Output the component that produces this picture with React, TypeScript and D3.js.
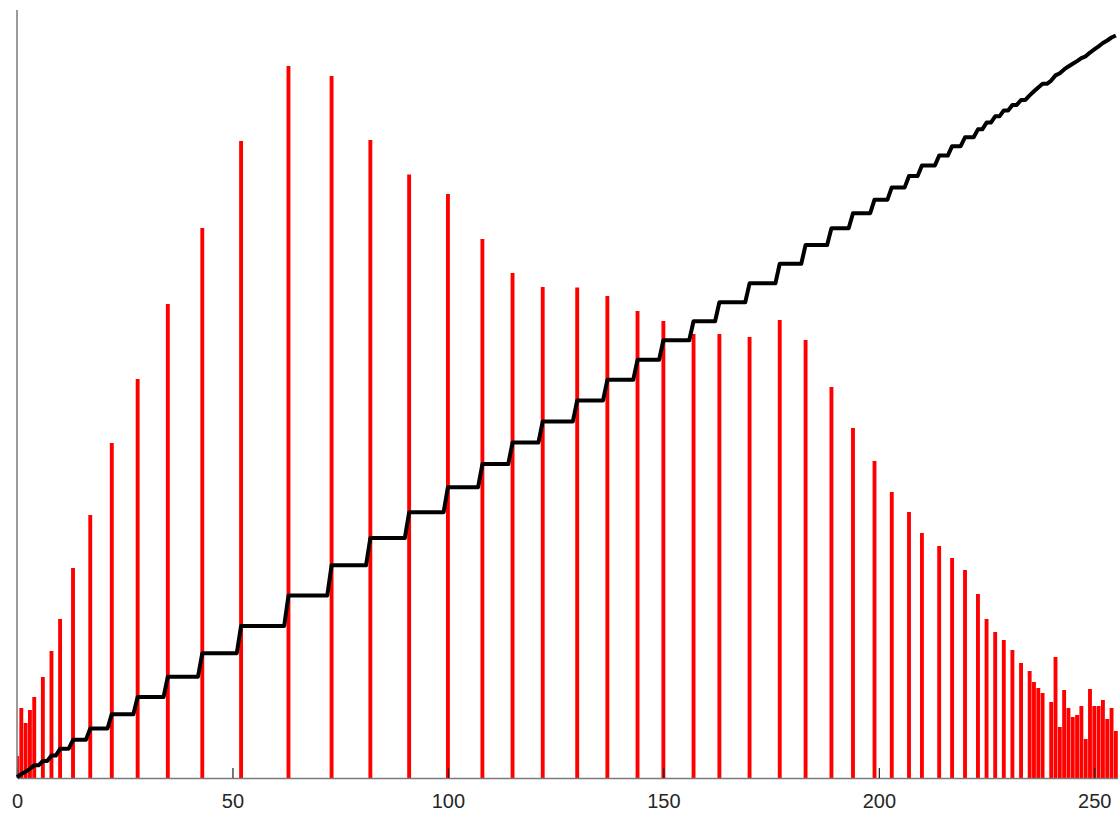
import * as d3 from 'd3';
import React, { useEffect, useRef } from 'react';

// grey levels that hold pixels after equalisation, and their pixel counts
const levels = [
    0, 1, 2, 3, 4, 6, 8, 10, 13, 17, 22, 28, 35, 43, 52, 63, 73, 82, 91, 100,
    108, 115, 122, 130, 137, 144, 150, 157, 163, 170, 177, 183, 189, 194, 199,
    203, 207, 210, 214, 217, 220, 223, 225, 227, 229, 231, 233, 235, 236, 237,
    238, 240, 241, 242, 243, 244, 245, 246, 247, 248, 249, 250, 251, 252, 253,
    254, 255,
];
const counts = [
    88, 280, 220, 272, 324, 404, 508, 636, 840, 1052, 1340, 1596, 1896, 2200,
    2548, 2848, 2808, 2552, 2414, 2336, 2156, 2020, 1964, 1962, 1928, 1868, 1828,
    1776, 1776, 1764, 1832, 1752, 1564, 1400, 1268, 1144, 1064, 980, 928, 880,
    832, 736, 636, 584, 552, 512, 460, 428, 384, 360, 340, 304, 484, 204, 352,
    280, 244, 252, 288, 156, 356, 288, 288, 312, 236, 280, 188,
];
// value the cumulative curve reaches at level 255 (same units as counts)
const cdfTop = 2970;
const xTicks = [0, 50, 100, 150, 200, 250];

const width = 1118;
const height = 814;
const marginLeft = 17;
const marginTop = 10;
const marginBottom = 36;

const App = () => {
    const svgRef = useRef<SVGSVGElement | null>(null);

    useEffect(() => {
        const svg = d3.select(svgRef.current);
        svg.selectAll('*').remove();

        const x = d3
            .scaleLinear()
            .domain([0, 255.5])
            .range([marginLeft, width]);
        const y = d3
            .scaleLinear()
            .domain([0, 3072])
            .range([height - marginBottom, marginTop]);

        // full 0..255 histogram (empty levels are 0) -> cumulative curve
        const full = d3.range(256).map(() => 0);
        levels.forEach((l, i) => (full[l] = counts[i]));
        const cum = Array.from(d3.cumsum(full));
        const k = cdfTop / cum[cum.length - 1];
        const cdf = cum.map((v, i) => ({ level: i, value: v * k }));

        svg.append('defs')
            .append('clipPath')
            .attr('id', 'plot-clip')
            .append('rect')
            .attr('x', x(0))
            .attr('y', marginTop)
            .attr('width', width - x(0))
            .attr('height', height - marginBottom - marginTop);

        const bw = (x(1) - x(0)) * 0.9;
        svg.append('g')
            .attr('clip-path', 'url(#plot-clip)')
            .selectAll('rect')
            .data(levels)
            .join('rect')
            .attr('x', (d) => x(d) - bw / 2)
            .attr('width', bw)
            .attr('y', (d, i) => y(counts[i]))
            .attr('height', (d, i) => y(0) - y(counts[i]))
            .attr('fill', '#ff0000');

        // bottom axis, ticks pointing inward
        const gx = svg
            .append('g')
            .attr('transform', `translate(0,${y(0)})`)
            .call(
                d3
                    .axisBottom(x)
                    .tickValues(xTicks)
                    .tickSize(-10)
                    .tickSizeOuter(0)
                    .tickPadding(16),
            );
        gx.select('.domain').attr('stroke', '#7a7a7a').attr('stroke-width', 1.5);
        gx.selectAll('.tick line').attr('stroke', '#222').attr('stroke-width', 1.2);
        gx.selectAll('.tick text')
            .attr('fill', '#262626')
            .attr('font-family', '"Liberation Sans", Arial, sans-serif')
            .attr('font-size', 20);

        svg.append('line')
            .attr('x1', x(0))
            .attr('x2', x(0))
            .attr('y1', marginTop)
            .attr('y2', y(0))
            .attr('stroke', '#7a7a7a')
            .attr('stroke-width', 1.5);

        const line = d3
            .line<{ level: number; value: number }>()
            .x((d) => x(d.level))
            .y((d) => y(d.value));

        svg.append('path')
            .datum(cdf)
            .attr('d', line)
            .attr('fill', 'none')
            .attr('stroke', '#000')
            .attr('stroke-width', 4)
            .attr('stroke-linejoin', 'round');
    }, []);

    return (
        <svg
            ref={svgRef}
            width={width}
            height={height}
            style={{ position: 'absolute', left: 0, top: 0, background: '#fff' }}
        />
    );
};

export default App;
